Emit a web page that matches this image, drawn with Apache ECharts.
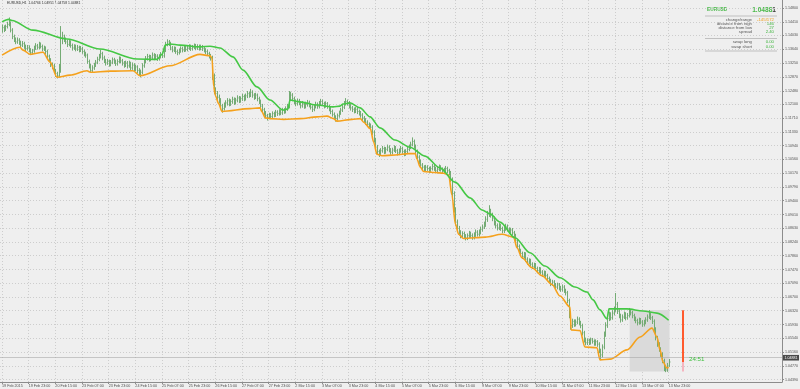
<!DOCTYPE html>
<html><head><meta charset="utf-8">
<script src="https://cdn.jsdelivr.net/npm/echarts@6/dist/echarts.min.js"></script>
<style>html,body{margin:0;padding:0;background:#efefef}#c{width:800px;height:389px}</style>
</head><body><div id="c"></div>
<script>
const timeLabels = ['19 Feb 2015','19 Feb 23:00','20 Feb 15:00','23 Feb 07:00','23 Feb 23:00','24 Feb 15:00','25 Feb 07:00','25 Feb 23:00','26 Feb 15:00','27 Feb 07:00','27 Feb 23:00','2 Mar 15:00','3 Mar 07:00','3 Mar 23:00','4 Mar 15:00','5 Mar 07:00','5 Mar 23:00','6 Mar 15:00','9 Mar 07:00','9 Mar 23:00','10 Mar 15:00','11 Mar 07:00','11 Mar 23:00','12 Mar 15:00','13 Mar 07:00','13 Mar 23:00'];
const labelStep = 16;
const priceTicks = [1.04390,1.04770,1.05160,1.05540,1.05930,1.06320,1.06700,1.07090,1.07470,1.07860,1.08240,1.08630,1.09010,1.09400,1.09790,1.10170,1.10560,1.10940,1.11330,1.11710,1.12100,1.12480,1.12870,1.13250,1.13640,1.14030,1.14410,1.14800];

const closes = [
1.1425,1.1420,1.1428,1.1434,1.1438,1.1418,1.1400,1.1392,1.1385,1.1390,
1.1383,1.1376,1.1380,1.1372,1.1366,1.1370,1.1362,1.1355,1.1360,1.1368,
1.1374,1.1370,1.1378,1.1372,1.1365,1.1368,1.1358,1.1345,1.1335,1.1322,
1.1318,1.1305,1.1296,1.1290,1.1312,1.1395,1.1398,1.1392,1.1385,1.1378,
1.1384,1.1375,1.1368,1.1372,1.1365,1.1370,1.1362,1.1366,1.1358,1.1352,
1.1348,1.1330,1.1318,1.1305,1.1312,1.1320,1.1328,1.1336,1.1345,1.1352,
1.1340,1.1332,1.1326,1.1330,1.1322,1.1328,1.1335,1.1330,1.1324,1.1330,
1.1338,1.1332,1.1326,1.1320,1.1326,1.1318,1.1325,1.1312,1.1320,1.1308,
1.1315,1.1305,1.1298,1.1300,1.1318,1.1330,1.1338,1.1344,1.1336,1.1342,
1.1348,1.1340,1.1345,1.1338,1.1344,1.1350,1.1346,1.1362,1.1378,1.1385,
1.1380,1.1368,1.1362,1.1366,1.1358,1.1355,1.1360,1.1366,1.1362,1.1368,
1.1364,1.1368,1.1372,1.1366,1.1370,1.1374,1.1368,1.1372,1.1367,1.1371,
1.1366,1.1362,1.1358,1.1352,1.1346,1.1340,1.1290,1.1250,1.1240,1.1230,
1.1220,1.1206,1.1198,1.1208,1.1214,1.1220,1.1212,1.1218,1.1224,1.1216,
1.1222,1.1228,1.1220,1.1226,1.1232,1.1226,1.1234,1.1240,1.1236,1.1244,
1.1236,1.1230,1.1236,1.1226,1.1218,1.1205,1.1195,1.1186,1.1178,1.1174,
1.1180,1.1176,1.1184,1.1180,1.1188,1.1184,1.1190,1.1186,1.1194,1.1190,
1.1198,1.1204,1.1228,1.1236,1.1226,1.1218,1.1212,1.1220,1.1214,1.1206,
1.1212,1.1204,1.1210,1.1216,1.1208,1.1202,1.1196,1.1204,1.1210,1.1204,
1.1212,1.1218,1.1212,1.1206,1.1212,1.1204,1.1198,1.1190,1.1182,1.1174,
1.1170,1.1178,1.1186,1.1194,1.1202,1.1212,1.1218,1.1214,1.1206,1.1200,
1.1196,1.1192,1.1196,1.1190,1.1186,1.1180,1.1172,1.1166,1.1160,1.1154,
1.1150,1.1146,1.1132,1.1110,1.1090,1.1078,1.1072,1.1080,1.1086,1.1078,
1.1084,1.1090,1.1082,1.1076,1.1082,1.1088,1.1080,1.1074,1.1080,1.1086,
1.1078,1.1072,1.1078,1.1084,1.1090,1.1098,1.1106,1.1092,1.1078,1.1062,
1.1050,1.1040,1.1034,1.1028,1.1034,1.1030,1.1024,1.1030,1.1036,1.1030,
1.1024,1.1028,1.1034,1.1028,1.1022,1.1026,1.1030,1.1024,1.1018,1.1000,
1.0960,1.0915,1.0880,1.0862,1.0850,1.0842,1.0848,1.0840,1.0836,1.0842,
1.0848,1.0842,1.0838,1.0845,1.0852,1.0846,1.0852,1.0860,1.0866,1.0874,
1.0888,1.0902,1.0912,1.0900,1.0890,1.0878,1.0870,1.0864,1.0870,1.0862,
1.0856,1.0862,1.0868,1.0860,1.0854,1.0858,1.0850,1.0842,1.0828,1.0812,
1.0800,1.0792,1.0784,1.0790,1.0776,1.0768,1.0772,1.0762,1.0756,1.0760,
1.0750,1.0744,1.0748,1.0740,1.0734,1.0738,1.0730,1.0722,1.0716,1.0708,
1.0712,1.0704,1.0698,1.0704,1.0696,1.0692,1.0698,1.0688,1.0682,1.0660,
1.0620,1.0590,1.0602,1.0594,1.0600,1.0608,1.0598,1.0590,1.0570,1.0550,
1.0542,1.0548,1.0542,1.0550,1.0546,1.0540,1.0545,1.0538,1.0520,1.0508,
1.0530,1.0565,1.0590,1.0610,1.0620,1.0612,1.0625,1.0636,1.0650,1.0630,
1.0618,1.0606,1.0614,1.0622,1.0612,1.0618,1.0632,1.0626,1.0618,1.0610,
1.0604,1.0598,1.0606,1.0600,1.0594,1.0600,1.0606,1.0614,1.0622,1.0612,
1.0602,1.0580,1.0556,1.0538,1.0524,1.0510,1.0492,1.0470,1.0466,1.0477,
1.04881];

const highs = [
1.1432,1.1430,1.1432,1.1440,1.1452,1.1441,1.1422,1.1404,1.1396,1.1396,
1.1394,1.1387,1.1386,1.1384,1.1376,1.1375,1.1374,1.1366,1.1364,1.1373,
1.1380,1.1378,1.1384,1.1382,1.1376,1.1373,1.1371,1.1362,1.1348,1.1338,
1.1326,1.1322,1.1308,1.1300,1.1322,1.1428,1.1412,1.1404,1.1396,1.1390,
1.1390,1.1388,1.1379,1.1377,1.1376,1.1375,1.1373,1.1372,1.1370,1.1362,
1.1356,1.1351,1.1334,1.1322,1.1318,1.1325,1.1333,1.1342,1.1350,1.1362,
1.1356,1.1345,1.1336,1.1336,1.1334,1.1333,1.1340,1.1339,1.1334,1.1335,
1.1343,1.1342,1.1336,1.1330,1.1331,1.1330,1.1331,1.1328,1.1326,1.1324,
1.1320,1.1318,1.1310,1.1306,1.1324,1.1336,1.1344,1.1350,1.1348,1.1347,
1.1354,1.1352,1.1350,1.1349,1.1349,1.1355,1.1354,1.1368,1.1384,1.1391,
1.1389,1.1384,1.1372,1.1371,1.1370,1.1362,1.1365,1.1371,1.1370,1.1373,
1.1372,1.1374,1.1377,1.1376,1.1375,1.1379,1.1378,1.1377,1.1376,1.1376,
1.1375,1.1370,1.1366,1.1362,1.1356,1.1350,1.1345,1.1295,1.1256,1.1246,
1.1236,1.1226,1.1210,1.1214,1.1220,1.1226,1.1225,1.1223,1.1230,1.1228,
1.1227,1.1234,1.1232,1.1231,1.1238,1.1236,1.1239,1.1246,1.1244,1.1252,
1.1248,1.1240,1.1241,1.1239,1.1230,1.1222,1.1210,1.1199,1.1190,1.1182,
1.1185,1.1184,1.1189,1.1188,1.1193,1.1192,1.1195,1.1194,1.1199,1.1198,
1.1203,1.1210,1.1246,1.1244,1.1240,1.1230,1.1222,1.1225,1.1224,1.1217,
1.1218,1.1215,1.1216,1.1221,1.1219,1.1212,1.1206,1.1209,1.1216,1.1214,
1.1218,1.1224,1.1222,1.1216,1.1217,1.1215,1.1208,1.1202,1.1194,1.1186,
1.1178,1.1183,1.1191,1.1199,1.1208,1.1218,1.1226,1.1222,1.1218,1.1210,
1.1204,1.1200,1.1201,1.1200,1.1194,1.1190,1.1184,1.1176,1.1170,1.1164,
1.1158,1.1155,1.1150,1.1136,1.1115,1.1095,1.1082,1.1086,1.1092,1.1090,
1.1089,1.1096,1.1094,1.1086,1.1087,1.1094,1.1092,1.1084,1.1085,1.1092,
1.1090,1.1082,1.1083,1.1090,1.1096,1.1104,1.1116,1.1110,1.1096,1.1082,
1.1066,1.1054,1.1044,1.1038,1.1039,1.1038,1.1034,1.1035,1.1042,1.1040,
1.1034,1.1033,1.1040,1.1038,1.1032,1.1031,1.1036,1.1034,1.1028,1.1022,
1.1004,1.0965,1.0920,1.0886,1.0868,1.0856,1.0853,1.0852,1.0845,1.0847,
1.0854,1.0852,1.0847,1.0850,1.0858,1.0856,1.0858,1.0866,1.0872,1.0880,
1.0895,1.0910,1.0926,1.0916,1.0905,1.0895,1.0883,1.0875,1.0876,1.0874,
1.0866,1.0867,1.0874,1.0872,1.0864,1.0863,1.0862,1.0854,1.0846,1.0832,
1.0816,1.0804,1.0796,1.0795,1.0794,1.0780,1.0777,1.0776,1.0766,1.0765,
1.0764,1.0754,1.0753,1.0752,1.0744,1.0743,1.0742,1.0734,1.0726,1.0720,
1.0717,1.0716,1.0708,1.0709,1.0708,1.0700,1.0704,1.0702,1.0692,1.0686,
1.0664,1.0625,1.0608,1.0606,1.0606,1.0614,1.0612,1.0602,1.0594,1.0574,
1.0555,1.0553,1.0552,1.0555,1.0554,1.0550,1.0550,1.0548,1.0542,1.0524,
1.0536,1.0572,1.0598,1.0618,1.0628,1.0626,1.0632,1.0642,1.0680,1.0655,
1.0634,1.0622,1.0620,1.0628,1.0626,1.0624,1.0638,1.0634,1.0630,1.0622,
1.0614,1.0608,1.0611,1.0610,1.0604,1.0605,1.0612,1.0620,1.0632,1.0626,
1.0616,1.0606,1.0584,1.0560,1.0542,1.0528,1.0514,1.0496,1.0478,1.0484,
1.04951];

const lows = [
1.1412,1.1414,1.1417,1.1424,1.1430,1.1413,1.1394,1.1386,1.1380,1.1381,
1.1378,1.1370,1.1372,1.1367,1.1360,1.1362,1.1357,1.1350,1.1351,1.1356,
1.1364,1.1365,1.1366,1.1368,1.1360,1.1361,1.1352,1.1340,1.1329,1.1316,
1.1310,1.1300,1.1288,1.1284,1.1286,1.1300,1.1380,1.1386,1.1380,1.1372,
1.1374,1.1370,1.1362,1.1364,1.1360,1.1361,1.1357,1.1358,1.1353,1.1346,
1.1342,1.1325,1.1312,1.1300,1.1302,1.1308,1.1316,1.1324,1.1332,1.1340,
1.1335,1.1327,1.1320,1.1322,1.1317,1.1318,1.1324,1.1325,1.1319,1.1320,
1.1326,1.1327,1.1320,1.1314,1.1316,1.1312,1.1314,1.1306,1.1308,1.1302,
1.1304,1.1298,1.1292,1.1287,1.1296,1.1314,1.1326,1.1334,1.1331,1.1332,
1.1338,1.1335,1.1336,1.1333,1.1334,1.1340,1.1341,1.1342,1.1358,1.1374,
1.1375,1.1363,1.1357,1.1358,1.1353,1.1349,1.1351,1.1356,1.1357,1.1358,
1.1359,1.1360,1.1364,1.1361,1.1362,1.1366,1.1363,1.1364,1.1362,1.1363,
1.1361,1.1357,1.1352,1.1347,1.1340,1.1334,1.1280,1.1240,1.1234,1.1224,
1.1214,1.1200,1.1188,1.1194,1.1202,1.1208,1.1206,1.1207,1.1213,1.1210,
1.1211,1.1217,1.1215,1.1216,1.1221,1.1220,1.1222,1.1229,1.1230,1.1232,
1.1230,1.1224,1.1226,1.1220,1.1212,1.1199,1.1189,1.1180,1.1172,1.1166,
1.1170,1.1170,1.1172,1.1175,1.1176,1.1179,1.1180,1.1181,1.1182,1.1185,
1.1186,1.1193,1.1200,1.1222,1.1220,1.1212,1.1206,1.1208,1.1209,1.1200,
1.1202,1.1199,1.1200,1.1205,1.1203,1.1197,1.1190,1.1192,1.1200,1.1199,
1.1200,1.1208,1.1207,1.1200,1.1202,1.1199,1.1192,1.1184,1.1177,1.1168,
1.1163,1.1166,1.1174,1.1182,1.1190,1.1198,1.1208,1.1208,1.1200,1.1194,
1.1190,1.1186,1.1187,1.1184,1.1180,1.1174,1.1166,1.1160,1.1154,1.1148,
1.1144,1.1140,1.1126,1.1104,1.1084,1.1070,1.1064,1.1068,1.1076,1.1072,
1.1073,1.1080,1.1077,1.1070,1.1071,1.1078,1.1075,1.1068,1.1069,1.1076,
1.1073,1.1066,1.1067,1.1074,1.1080,1.1086,1.1094,1.1087,1.1072,1.1056,
1.1044,1.1034,1.1028,1.1022,1.1023,1.1025,1.1019,1.1019,1.1026,1.1025,
1.1019,1.1018,1.1024,1.1023,1.1017,1.1016,1.1021,1.1019,1.1012,1.0994,
1.0952,1.0908,1.0872,1.0855,1.0844,1.0836,1.0837,1.0834,1.0830,1.0831,
1.0837,1.0837,1.0832,1.0833,1.0840,1.0841,1.0841,1.0847,1.0855,1.0862,
1.0868,1.0882,1.0896,1.0894,1.0884,1.0872,1.0864,1.0858,1.0859,1.0857,
1.0850,1.0851,1.0857,1.0855,1.0848,1.0849,1.0845,1.0836,1.0822,1.0806,
1.0794,1.0786,1.0778,1.0779,1.0770,1.0762,1.0763,1.0757,1.0750,1.0751,
1.0745,1.0738,1.0739,1.0735,1.0728,1.0729,1.0725,1.0716,1.0710,1.0702,
1.0703,1.0698,1.0692,1.0693,1.0690,1.0686,1.0687,1.0683,1.0676,1.0654,
1.0612,1.0580,1.0585,1.0588,1.0589,1.0595,1.0592,1.0584,1.0564,1.0544,
1.0536,1.0537,1.0537,1.0538,1.0541,1.0535,1.0535,1.0532,1.0514,1.0495,
1.0502,1.0525,1.0560,1.0585,1.0604,1.0606,1.0608,1.0620,1.0630,1.0624,
1.0612,1.0600,1.0602,1.0610,1.0606,1.0608,1.0614,1.0620,1.0612,1.0604,
1.0598,1.0592,1.0594,1.0595,1.0588,1.0589,1.0595,1.0602,1.0610,1.0607,
1.0596,1.0574,1.0550,1.0532,1.0518,1.0504,1.0486,1.0464,1.0461,1.0462,
1.04758];

const greenLine = [[0,1.1441],[4,1.1448],[6,1.1445],[18.6,1.1418],[39,1.1393],[58.8,1.1365],[81,1.1337],[93,1.1336],[96,1.1350],[98,1.1376],[100.8,1.1379],[106.8,1.1376],[118.8,1.1371],[124.8,1.1373],[130.8,1.1368],[138.6,1.1343],[144.6,1.1306],[153,1.1259],[160.8,1.1222],[168.6,1.1194],[171.6,1.1197],[172.8,1.1222],[178.8,1.1217],[189,1.1208],[198.6,1.1203],[202.8,1.1205],[204.6,1.1211],[208.8,1.1214],[214.8,1.1200],[220.8,1.1175],[226.8,1.1144],[235.8,1.1110],[244.8,1.1090],[253.8,1.1065],[262.8,1.1032],[271.8,1.0992],[280.8,1.0948],[288,1.0914],[292.8,1.0903],[298.8,1.0880],[307.8,1.0836],[316.8,1.0794],[325.8,1.0757],[334.8,1.0724],[343.8,1.0698],[351,1.0684],[354.6,1.0662],[358.8,1.0634],[363,1.0609],[364.2,1.0637],[375,1.0637],[384.6,1.0631],[393,1.0625],[400,1.0605]];

const orangeLine = [[0,1.1348],[10.8,1.1370],[12.6,1.1362],[17,1.1350],[24.6,1.1356],[28.8,1.1329],[33,1.1286],[40.8,1.1292],[51,1.1304],[53,1.1300],[64.8,1.1303],[78.6,1.1304],[82.8,1.1290],[100.8,1.1318],[118.8,1.1350],[124.8,1.1346],[126,1.1340],[127,1.1260],[128,1.1235],[130,1.1212],[132,1.1190],[148.8,1.1198],[154.8,1.1200],[156,1.1189],[158,1.1172],[161,1.1170],[169,1.1168],[179,1.1170],[189,1.1175],[195,1.1177],[199,1.1170],[201,1.1163],[210,1.1168],[215,1.1170],[217,1.1160],[221,1.1142],[223,1.1104],[225,1.1070],[228,1.1066],[236,1.1068],[244,1.1072],[248,1.1072],[249,1.1056],[251,1.1034],[253,1.1022],[260,1.1019],[265,1.1017],[268,1.1012],[270,1.0955],[272,1.0875],[274,1.0846],[277,1.0834],[290,1.0838],[300,1.0846],[307,1.0838],[309,1.0808],[312,1.0780],[318,1.0752],[324,1.0730],[330,1.0705],[334.8,1.0673],[340.8,1.0642],[341.5,1.0578],[346.8,1.0576],[349.8,1.0530],[357,1.0528],[358.8,1.0494],[364.8,1.0496],[375,1.0522],[382.8,1.0558],[390,1.0583],[393,1.0558],[394.8,1.0522],[396.6,1.0488],[399,1.0471],[400,1.0473]];

const symbolName = 'EURUSD', timeframe = 'H1';
const lastBar = {open:1.04766, high:1.04951, low:1.04758, close:1.04881};
const dayOpen = 1.06331, dayHigh = 1.06341, dayLow = 1.04611, dayStartIndex = 377;
const infoRows = [['change/range','-145/172','#f0a020'],['distance from high','146','#3cb43c'],['distance from low','27','#3cb43c'],['spread','2.40','#3cb43c']];
const swapRows = [['swap long','0.00'],['swap short','0.00']];
const timeToClose = '24:51';
const shiftIndex = 408.6;

const FONT = '"Liberation Sans", Arial, sans-serif';
const BAR = '#74ab74';
const n = closes.length;
const barData = closes.map((c, i) => [i, highs[i], lows[i], c]);
const xTickVals = timeLabels.map((_, k) => k * labelStep);

const chart = echarts.init(document.getElementById('c'), null, {renderer: 'canvas'});

const graphics = [];
graphics.push({type:'text', left:7, top:2, style:{text:`${symbolName},${timeframe}  ${lastBar.open.toFixed(5)} ${lastBar.high.toFixed(5)} ${lastBar.low.toFixed(5)} ${lastBar.close.toFixed(5)}`, fill:'#303030', font:'3.4px ' + FONT}});
graphics.push({type:'text', style:{x:707, y:10, text:symbolName, fill:'#49b949', font:'bold 4.8px ' + FONT, verticalAlign:'middle'}});
const cs = lastBar.close.toFixed(5);
graphics.push({type:'text', style:{x:776, y:10, text:'{a|' + cs.slice(0, -1) + '}{b|' + cs.slice(-1) + '}', align:'right', verticalAlign:'middle', rich:{a:{fill:'#49b949', font:'bold 6.6px ' + FONT}, b:{fill:'#3a3a3a', font:'bold 6.6px ' + FONT}}}});
[16, 38.5, 51].forEach(y => graphics.push({type:'line', shape:{x1:705, y1:y, x2:777, y2:y}, style:{stroke:'#a0a0a0', lineWidth:0.6}}));
infoRows.forEach((r, k) => {
  const y = 19.5 + k * 4.2;
  graphics.push({type:'text', style:{x:752, y:y, text:r[0], fill:'#555', font:'4.3px ' + FONT, align:'right', verticalAlign:'middle'}});
  graphics.push({type:'text', style:{x:774, y:y, text:r[1], fill:r[2], font:'4.3px ' + FONT, align:'right', verticalAlign:'middle'}});
});
swapRows.forEach((r, k) => {
  const y = 42.3 + k * 4.4;
  graphics.push({type:'text', style:{x:752, y:y, text:r[0], fill:'#555', font:'4.3px ' + FONT, align:'right', verticalAlign:'middle'}});
  graphics.push({type:'text', style:{x:774, y:y, text:r[1], fill:'#3cb43c', font:'4.3px ' + FONT, align:'right', verticalAlign:'middle'}});
});

const option = {
  backgroundColor: '#efefef',
  animation: false,
  grid: {left: 0, right: 18, top: 0, bottom: 7, outerBoundsMode: 'none'},
  xAxis: {
    type: 'value', min: -1.2, max: 468,
    axisLine: {show: true, onZero: false, lineStyle: {color: '#8c8c8c', width: 1}},
    axisTick: {show: true, customValues: xTickVals, length: 2, lineStyle: {color: '#8c8c8c'}},
    axisLabel: {show: true, customValues: xTickVals, formatter: v => timeLabels[Math.round(v / labelStep)] || '', fontSize: 3.7, color: '#505050', align: 'left', margin: 1.5, fontFamily: FONT},
    splitLine: {show: true, lineStyle: {color: '#cdcdcd', type: [1, 2], width: 1}}
  },
  yAxis: {
    type: 'value', position: 'right', min: 1.0432, max: 1.15024, scale: true,
    axisLine: {show: true, onZero: false, lineStyle: {color: '#8c8c8c', width: 1}},
    axisTick: {show: true, customValues: priceTicks, length: 2, lineStyle: {color: '#8c8c8c'}},
    axisLabel: {show: true, customValues: priceTicks, formatter: v => v.toFixed(5), fontSize: 3.6, color: '#505050', margin: 3, fontFamily: FONT},
    splitLine: {show: true, lineStyle: {color: '#cdcdcd', type: [1, 2], width: 1}}
  },
  graphic: graphics,
  series: [
    {
      type: 'custom', name: 'dayRange', z: 1, silent: true,
      data: [[dayStartIndex - 0.4, dayHigh, n - 1 + 0.5, dayLow]],
      encode: {x: [0, 2], y: [1, 3]},
      renderItem: (p, api) => {
        const a = api.coord([api.value(0), api.value(1)]);
        const b = api.coord([api.value(2), api.value(3)]);
        return {type: 'rect', shape: {x: a[0], y: a[1], width: b[0] - a[0], height: b[1] - a[1]}, style: {fill: '#dadada'}};
      }
    },
    {
      type: 'custom', name: 'bars', z: 3, silent: true,
      data: barData,
      encode: {x: 0, y: [1, 2, 3]},
      renderItem: (p, api) => {
        const i = api.value(0);
        const h = api.coord([i, api.value(1)]);
        const l = api.coord([i, api.value(2)]);
        const c = api.coord([i, api.value(3)]);
        const x = Math.round(h[0]) + 0.5;
        return {type: 'group', children: [
          {type: 'line', shape: {x1: x, y1: h[1] - 0.5, x2: x, y2: l[1] + 0.5}, style: {stroke: BAR, lineWidth: 1}},
          {type: 'line', shape: {x1: x, y1: c[1], x2: x + 1, y2: c[1]}, style: {stroke: BAR, lineWidth: 1}}
        ]};
      },
      markLine: {
        silent: true, symbol: 'none', animation: false,
        data: [{yAxis: lastBar.close}],
        lineStyle: {color: '#a8a8a8', width: 0.6, type: 'solid'},
        label: {show: true, position: 'end', formatter: lastBar.close.toFixed(5), backgroundColor: '#4a4a4a', color: '#fff', fontSize: 3.6, fontFamily: FONT, padding: [0.8, 1.5], distance: 1}
      }
    },
    {
      type: 'line', name: 'orange', z: 4, data: orangeLine, showSymbol: false, symbol: 'none',
      smooth: 0.3, smoothMonotone: 'x',
      lineStyle: {color: '#f5a11c', width: 1.6}
    },
    {
      type: 'line', name: 'green', z: 5, data: greenLine, showSymbol: false, symbol: 'none',
      smooth: 0.3, smoothMonotone: 'x',
      lineStyle: {color: '#45c845', width: 1.6}
    },
    {
      type: 'custom', name: 'rangeBar', z: 6, silent: true,
      data: [[shiftIndex, dayOpen, lastBar.close, dayLow]],
      encode: {x: 0, y: [1, 2, 3]},
      renderItem: (p, api) => {
        const o = api.coord([api.value(0), api.value(1)]);
        const c = api.coord([api.value(0), api.value(2)]);
        const l = api.coord([api.value(0), api.value(3)]);
        return {type: 'group', children: [
          {type: 'rect', shape: {x: o[0] - 1, y: o[1], width: 2, height: c[1] - o[1]}, style: {fill: '#ff5a2e'}},
          {type: 'rect', shape: {x: c[0] - 1, y: c[1], width: 2, height: l[1] - c[1]}, style: {fill: '#f5b5c0'}},
          {type: 'text', style: {x: c[0] + 6, y: c[1] - 3, text: timeToClose, fill: '#3cbf3c', font: '6.2px ' + FONT, verticalAlign: 'middle'}}
        ]};
      }
    }
  ]
};
chart.setOption(option);
</script>
</body></html>
